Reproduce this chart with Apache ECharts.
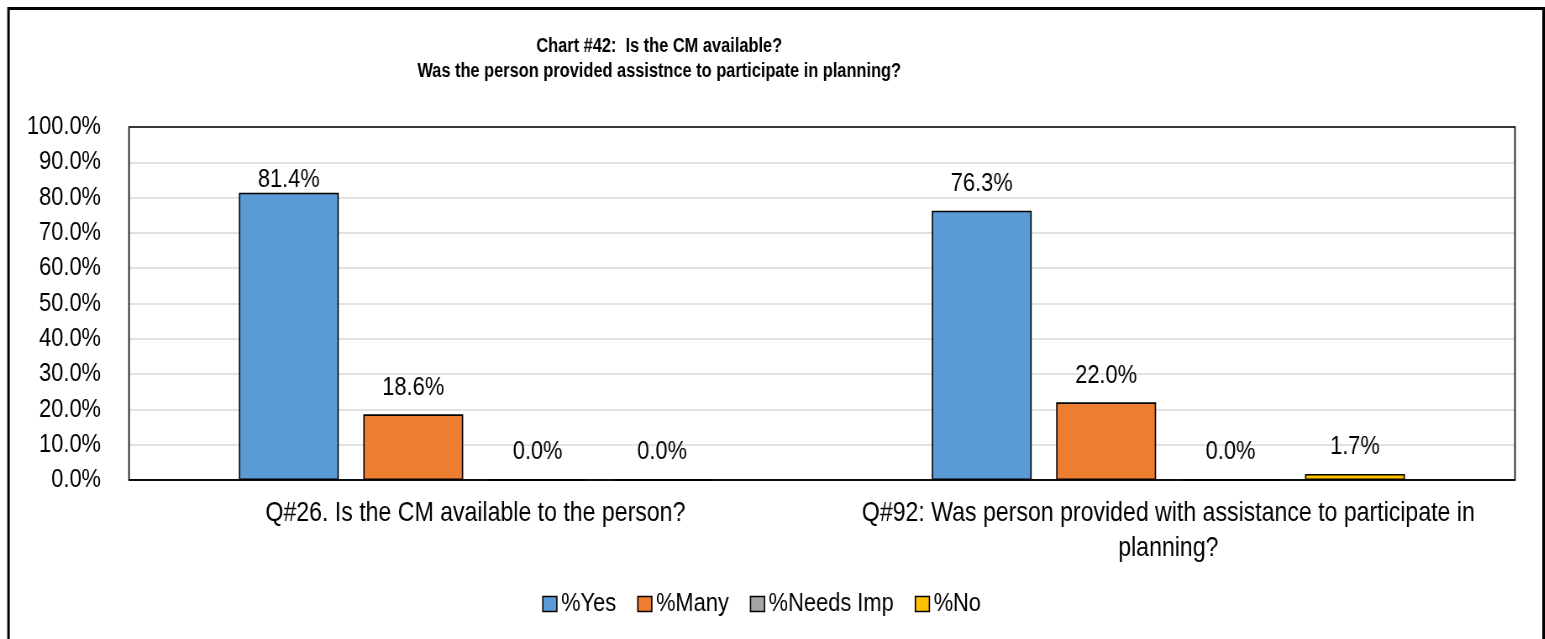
<!DOCTYPE html>
<html>
<head>
<meta charset="utf-8">
<script src="https://cdn.jsdelivr.net/npm/echarts@6/dist/echarts.min.js"></script>
<style>
html,body{margin:0;padding:0;background:#fff;overflow:hidden;}
#chart{height:639px;transform-origin:0 0;}
</style>
</head>
<body>
<div id="chart"></div>
<script>
var titleText = 'Chart #42:  Is the CM available?\nWas the person provided assistnce to participate in planning?';
var categories = ['Q#26. Is the CM available to the person?', 'Q#92: Was person provided with assistance to participate in\nplanning?'];
var seriesNames = ['%Yes', '%Many', '%Needs Imp', '%No'];
var yesValues = [81.4, 76.3];
var manyValues = [18.6, 22.0];
var needsImpValues = [0.0, 0.0];
var noValues = [0.0, 1.7];
var yTicks = [0, 10, 20, 30, 40, 50, 60, 70, 80, 90, 100];

var colors = ['#5B9BD5', '#ED7D31', '#A5A5A5', '#FFC000'];
var FONT = "'Liberation Sans', Arial, sans-serif";
var allValues = [yesValues, manyValues, needsImpValues, noValues];

// the reference's text is horizontally condensed; draw at a wider width and squeeze horizontally
var S = 0.84;
function X(px) { return px / S; }
var el = document.getElementById('chart');
el.style.width = Math.round(1545 / S) + 'px';
el.style.transform = 'scaleX(' + S + ')';

var GL = 129, GT = 127, GR = 1515, GB = 480;

function pct(v) { return Number(v).toFixed(1) + '%'; }

var series = allValues.map(function (vals, si) {
  return {
    name: seriesNames[si],
    type: 'bar',
    barGap: '24.5%',
    barCategoryGap: '31.7%',
    itemStyle: { color: colors[si], borderColor: '#000', borderWidth: 1.6 },
    label: {
      show: true, position: 'top', distance: 14,
      fontFamily: FONT, fontSize: 26, color: '#000',
      formatter: function (p) { return pct(p.value); }
    },
    data: vals.map(function (v, i) {
      if (si === 0 && i === 0) return { value: v, label: { distance: 0 } };
      return v;
    })
  };
});

var chart = echarts.init(el, null, { renderer: 'canvas' });
chart.setOption({
  animation: false,
  backgroundColor: '#fff',
  color: colors,
  textStyle: { fontFamily: FONT },
  title: {
    text: titleText,
    left: X(655), top: 29, textAlign: 'center',
    textStyle: { fontFamily: FONT, fontSize: 19.5, fontWeight: 'bold', color: '#000', lineHeight: 25 }
  },
  graphic: [{
    type: 'rect', silent: true, z: 100,
    shape: { x: X(8.5), y: 8.5, width: X(1535), height: 700 },
    style: { fill: null, stroke: '#000', lineWidth: 3 }
  }, {
    type: 'rect', silent: true, z: 100,
    shape: { x: X(GL), y: GT, width: X(GR - GL), height: GB - GT },
    style: { fill: null, stroke: '#000', lineWidth: 1.6 }
  }],
  legend: {
    left: X(538), top: 586,
    itemWidth: X(14), itemHeight: 15, itemGap: X(21),
    icon: 'rect',
    itemStyle: { borderColor: '#000', borderWidth: 1.6 },
    textStyle: { fontFamily: FONT, fontSize: 26, color: '#000' },
    data: seriesNames
  },
  grid: {
    left: X(GL), top: GT, right: X(1545 - GR), bottom: 639 - GB,
    show: false
  },
  xAxis: {
    type: 'category',
    data: categories,
    axisTick: { show: false },
    axisLine: { lineStyle: { color: '#000', width: 1.6 } },
    axisLabel: { interval: 0, fontFamily: FONT, fontSize: 27.5, lineHeight: 35, color: '#000', margin: 16 }
  },
  yAxis: {
    type: 'value',
    min: yTicks[0], max: yTicks[yTicks.length - 1], interval: yTicks[1] - yTicks[0],
    axisLine: { show: false },
    axisTick: { show: false },
    splitLine: { lineStyle: { color: '#d9d9d9', width: 1.6 } },
    axisLabel: { fontFamily: FONT, fontSize: 26, color: '#000', margin: X(28), formatter: function (v) { return pct(v); } }
  },
  series: series
});
</script>
</body>
</html>
